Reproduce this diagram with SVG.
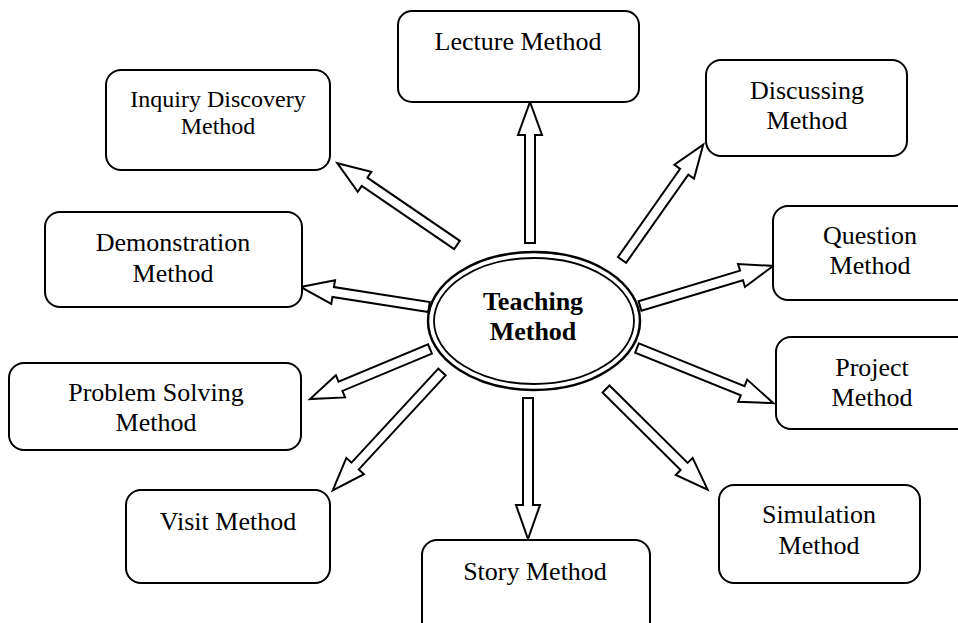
<svg xmlns="http://www.w3.org/2000/svg" width="958" height="623" viewBox="0 0 958 623">
<style>
.box{fill:#fff;stroke:#000;stroke-width:2}
.t{font-family:"Liberation Serif","Times New Roman",serif;font-size:26px;fill:#000;text-anchor:middle}
.s{font-size:24px}
.b{font-weight:bold}
.arr{fill:#fff;stroke:#000;stroke-width:2;stroke-linejoin:miter}
</style>
<rect width="958" height="623" fill="#fff"/>
<g id="connectors">
<path class="arr" transform="translate(530,243) rotate(-90)" d="M0,-5 L108,-5 L108,-12 L141,0 L108,12 L108,5 L0,5 Z"/>
<path class="arr" transform="translate(457,245) rotate(-145.65)" d="M0,-5 L112,-5 L112,-12 L145,0 L112,12 L112,5 L0,5 Z"/>
<path class="arr" transform="translate(622,260) rotate(-54.84)" d="M0,-5 L108,-5 L108,-12 L141,0 L108,12 L108,5 L0,5 Z"/>
<path class="arr" transform="translate(429,307) rotate(-171.12)" d="M0,-5 L97,-5 L97,-12 L130,0 L97,12 L97,5 L0,5 Z"/>
<path class="arr" transform="translate(640,306) rotate(-16.74)" d="M0,-5 L106,-5 L106,-12 L139,0 L106,12 L106,5 L0,5 Z"/>
<path class="arr" transform="translate(637,348) rotate(22.02)" d="M0,-5 L114,-5 L114,-12 L147,0 L114,12 L114,5 L0,5 Z"/>
<path class="arr" transform="translate(430,349) rotate(157.38)" d="M0,-5 L97,-5 L97,-12 L130,0 L97,12 L97,5 L0,5 Z"/>
<path class="arr" transform="translate(442,372) rotate(132.73)" d="M0,-5 L128,-5 L128,-12 L161,0 L128,12 L128,5 L0,5 Z"/>
<path class="arr" transform="translate(528,398) rotate(90)" d="M0,-5 L107,-5 L107,-12 L141,0 L107,12 L107,5 L0,5 Z"/>
<path class="arr" transform="translate(606,389) rotate(44.72)" d="M0,-5 L110,-5 L110,-12 L143,0 L110,12 L110,5 L0,5 Z"/>
</g>
<g id="center">
<ellipse cx="534" cy="321" rx="106" ry="69" fill="#fff" stroke="#000" stroke-width="2.5"/>
<ellipse cx="534" cy="321" rx="100" ry="63" fill="none" stroke="#000" stroke-width="1.8"/>
<text class="t b" x="533" y="310">Teaching</text>
<text class="t b" x="533" y="340">Method</text>
</g>
<g id="lecture">
<rect class="box" x="398" y="11" width="241" height="91" rx="14"/>
<text class="t" x="518" y="50">Lecture Method</text>
</g>
<g id="inquiry">
<rect class="box" x="106" y="70" width="224" height="100" rx="15"/>
<text class="t s" x="218" y="107">Inquiry Discovery</text>
<text class="t s" x="218" y="134">Method</text>
</g>
<g id="discussing">
<rect class="box" x="706" y="60" width="201" height="96" rx="15"/>
<text class="t" x="807" y="99">Discussing</text>
<text class="t" x="807" y="129">Method</text>
</g>
<g id="demonstration">
<rect class="box" x="45" y="212" width="257" height="95" rx="15"/>
<text class="t" x="173" y="251">Demonstration</text>
<text class="t" x="173" y="282">Method</text>
</g>
<g id="question">
<rect class="box" x="773" y="206" width="210" height="94" rx="15"/>
<text class="t" x="870" y="244">Question</text>
<text class="t" x="870" y="274">Method</text>
</g>
<g id="problem">
<rect class="box" x="9" y="363" width="292" height="87" rx="15"/>
<text class="t" x="156" y="401">Problem Solving</text>
<text class="t" x="156" y="431">Method</text>
</g>
<g id="project">
<rect class="box" x="776" y="337" width="210" height="92" rx="15"/>
<text class="t" x="872" y="376">Project</text>
<text class="t" x="872" y="406">Method</text>
</g>
<g id="visit">
<rect class="box" x="126" y="490" width="204" height="93" rx="15"/>
<text class="t" x="228" y="530">Visit Method</text>
</g>
<g id="story">
<rect class="box" x="422" y="540" width="228" height="100" rx="15"/>
<text class="t" x="535" y="580">Story Method</text>
</g>
<g id="simulation">
<rect class="box" x="719" y="485" width="201" height="98" rx="15"/>
<text class="t" x="819" y="523">Simulation</text>
<text class="t" x="819" y="554">Method</text>
</g>
</svg>
